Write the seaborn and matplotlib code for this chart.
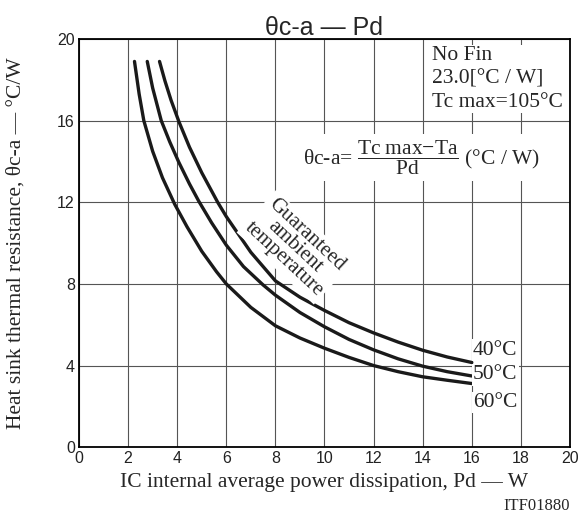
import pandas as pd
import seaborn as sns
import matplotlib.pyplot as plt

# Valores (Pd em W, θc-a em °C/W)
pd_60 = [2.26, 2.45, 2.64, 3.0, 3.4, 3.9, 4.4, 5.0, 5.6, 6.0, 7.0, 8.0, 9.0, 10.0, 11.0, 12.0, 13.0, 14.0, 15.0, 16.0]
th_60 = [18.9, 17.3, 16.0, 14.5, 13.2, 11.9, 10.8, 9.6, 8.6, 8.0, 6.85, 5.95, 5.35, 4.85, 4.4, 4.0, 3.7, 3.45, 3.28, 3.12]

pd_50 = [2.78, 3.0, 3.35, 3.7, 4.07, 4.5, 4.88, 5.4, 6.0, 6.7, 7.5, 8.0, 9.0, 10.0, 11.0, 12.0, 13.0, 14.0, 15.0, 16.0]
th_50 = [18.9, 17.6, 16.0, 14.95, 13.95, 12.9, 12.05, 11.0, 9.9, 8.85, 7.95, 7.45, 6.6, 5.9, 5.28, 4.77, 4.33, 3.97, 3.7, 3.49]

pd_40 = [3.28, 3.5, 3.75, 4.07, 4.5, 5.0, 5.65, 6.0, 7.0, 8.0, 9.0, 10.0, 11.0, 12.0, 13.0, 14.0, 15.0, 16.0]
th_40 = [18.9, 17.95, 17.0, 15.95, 14.7, 13.45, 12.0, 11.3, 9.55, 8.15, 7.35, 6.7, 6.1, 5.6, 5.15, 4.75, 4.42, 4.15]

temps = ["40°C", "50°C", "60°C"]
label_y = [4.75, 3.55, 2.2]

x_ticks = [0, 2, 4, 6, 8, 10, 12, 14, 16, 18, 20]
y_ticks = [0, 4, 8, 12, 16, 20]

df = pd.concat([
    pd.DataFrame({"Pd": pd_40, "theta": th_40, "Ta": "40°C"}),
    pd.DataFrame({"Pd": pd_50, "theta": th_50, "Ta": "50°C"}),
    pd.DataFrame({"Pd": pd_60, "theta": th_60, "Ta": "60°C"}),
])

sns.set_theme(style="whitegrid")
plt.rcParams["font.family"] = ["Liberation Sans", "DejaVu Sans"]
plt.rcParams["mathtext.fontset"] = "custom"
plt.rcParams["mathtext.rm"] = "Liberation Serif"
plt.rcParams["mathtext.it"] = "Liberation Serif:italic"

serif = ["Liberation Serif", "DejaVu Serif"]

fig = plt.figure(figsize=(5.81, 5.2), dpi=100)
ax = fig.add_axes([0.136, 0.140, 0.845, 0.785])

sns.lineplot(data=df, x="Pd", y="theta", hue="Ta", units="Ta", estimator=None, sort=False,
             palette=["#1a1a1a"] * 3, linewidth=2.4, legend=False, ax=ax)

ax.set_xlim(0, 20)
ax.set_ylim(0, 20)
ax.set_xticks(x_ticks)
ax.set_yticks(y_ticks)
ax.grid(True, color="#555555", linewidth=0.8)
for s in ax.spines.values():
    s.set_color("black")
    s.set_linewidth(1.3)
ax.tick_params(axis="both", labelsize=11.5, colors="#222222", length=0, pad=3)

ax.set_title("θc-a — Pd", fontsize=18, pad=3)
ax.set_xlabel("IC internal average power dissipation, Pd — W", fontsize=15.5, family=serif, labelpad=5)
ax.set_ylabel("Heat sink thermal resistance, θc-a — °C/W", fontsize=15.5, family=serif)
ax.yaxis.set_label_coords(-0.108, 0.5)

box = dict(facecolor="white", edgecolor="none", pad=1)

ax.text(14.4, 19.65, "No Fin\n23.0[°C / W]\nTc max=105°C", fontsize=15.5, family=serif,
        ha="left", va="top", linespacing=1.3, bbox=box)
ax.text(13.95, 14.2, r"θc-a= $\dfrac{\mathrm{Tc\ max{-}Ta}}{\mathrm{Pd}}$ (°C / W)", fontsize=15.5,
        family=serif, ha="center", va="center", bbox=dict(facecolor="white", edgecolor="none", pad=3))
ax.text(8.8, 9.8, "Guaranteed\nambient\ntemperature", fontsize=15, family=serif, rotation=-43,
        ha="center", va="center", linespacing=0.85, rotation_mode="anchor",
        bbox=dict(facecolor="white", edgecolor="none", pad=2))

for t, y in zip(temps, label_y):
    ax.text(16.05, y, t, fontsize=15.5, family=serif, ha="left", va="center", bbox=box)

fig.text(0.981, 0.012, "ITF01880", fontsize=12, family=serif, ha="right", va="bottom")

plt.savefig("out.png", dpi=100)
plt.close()
